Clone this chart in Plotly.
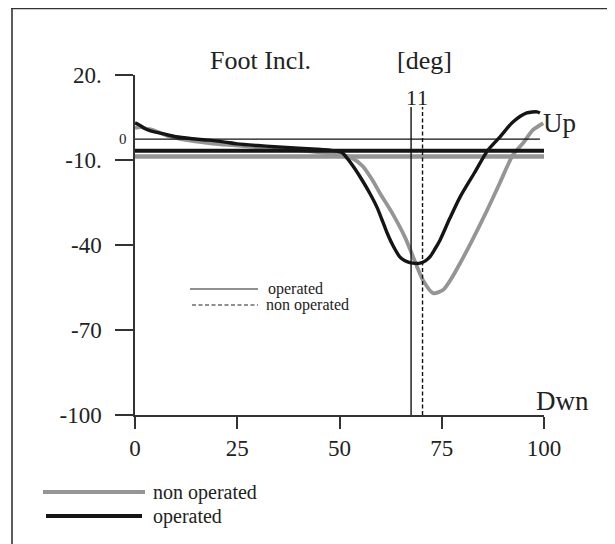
import plotly.graph_objects as go

# ---- data ----
gait_cycle_ticks = [0, 25, 50, 75, 100]
incl_tickvals = [20, -10, -40, -70, -100]
incl_ticktext = ["20.", "-10.", "-40", "-70", "-100"]

operated_x = [0, 1, 2.5, 4, 7, 10, 14, 18, 22, 25, 30, 34, 40, 44.5, 48.5, 50.5,
              52, 53.8, 55.7, 57.5, 59.2, 60.5, 61.6, 63, 64.8, 66, 67.2, 68.5,
              69.7, 71, 72.1, 73.3, 74.6, 77, 79.5, 83, 86.3, 89.2, 92.4, 95.8,
              98.3, 99]
operated_y = [3.1, 2.4, 1.0, 0.2, -0.8, -1.8, -2.5, -3.0, -3.7, -4.3, -4.9, -5.3,
              -5.8, -6.2, -6.7, -7.3, -9.6, -13.2, -17.5, -22.0, -26.8, -31.5,
              -35.6, -40.0, -44.3, -45.6, -46.2, -46.5, -46.4, -45.6, -44.2, -41.5,
              -38.2, -30.5, -23.0, -14.5, -6.5, -1.9, 3.4, 6.6, 7.0, 6.6]

non_operated_x = [0, 1.5, 3, 4.4, 8, 12.7, 18, 23, 30, 40, 48, 51, 53, 55.7, 58,
                  60, 63, 66, 68, 70.4, 72.9, 75.3, 77.5, 79.5, 82.5, 86, 89.2,
                  92.4, 94.9, 97.3, 99.8]
non_operated_y = [1.3, 1.6, 1.0, 0.6, -1.5, -3.0, -4.0, -4.7, -5.5, -6.5, -7.8,
                  -8.4, -9.3, -12.2, -17.0, -22.0, -29.0, -37.2, -44.2, -52.4,
                  -57.0, -55.9, -51.5, -46.4, -38.2, -28.0, -18.1, -8.2, -4.0, 0.6,
                  3.0]

operated_mean = -6.7
non_operated_mean = -8.8
zero_level = -2.6
toe_off_operated = 67.5
toe_off_non_operated = 70.3
toe_off_top = 8.7

FONT = "Liberation Serif"
BLACK = "#151515"
GRAY = "#959595"

fig = go.Figure()

fig.add_trace(go.Scatter(x=[0, 100], y=[non_operated_mean] * 2, mode="lines",
                         line=dict(color=GRAY, width=4.5), hoverinfo="skip"))
fig.add_trace(go.Scatter(x=non_operated_x, y=non_operated_y, mode="lines",
                         line=dict(color=GRAY, width=3.8, shape="spline", smoothing=0.7),
                         name="non operated"))
fig.add_trace(go.Scatter(x=[0, 100], y=[operated_mean] * 2, mode="lines",
                         line=dict(color=BLACK, width=4), hoverinfo="skip"))
fig.add_trace(go.Scatter(x=operated_x, y=operated_y, mode="lines",
                         line=dict(color=BLACK, width=3.4, shape="spline", smoothing=0.7),
                         name="operated"))
fig.add_trace(go.Scatter(x=[0, 99], y=[zero_level] * 2, mode="lines",
                         line=dict(color="#111", width=1.3), hoverinfo="skip"))
fig.add_trace(go.Scatter(x=[toe_off_operated] * 2, y=[-100, toe_off_top], mode="lines",
                         line=dict(color="#111", width=1.4), hoverinfo="skip"))
fig.add_trace(go.Scatter(x=[toe_off_non_operated] * 2, y=[-100, toe_off_top], mode="lines",
                         line=dict(color="#111", width=1.4, dash="4px,2.5px"), hoverinfo="skip"))

# page body has an 8px margin: figure is placed at (8, 8) on screen
OFF = 8
SL, ST, W, H = 135, 75, 409, 340   # plot area position on screen
L, T = SL - OFF, ST - OFF
FW, FH = 615 - OFF, 544 - OFF


def px(xp):
    return (xp - SL) / W


def py(yp):
    return (ST + H - yp) / H


shapes = [
    dict(type="line", xref="paper", yref="paper", x0=px(11), x1=px(640), y0=py(8.5), y1=py(8.5),
         line=dict(color="#333", width=1.6)),
    dict(type="line", xref="paper", yref="paper", x0=px(12), x1=px(12), y0=py(8.5), y1=py(560),
         line=dict(color="#333", width=1.6)),
    dict(type="line", xref="paper", yref="paper", x0=px(190), x1=px(258), y0=py(289), y1=py(289),
         line=dict(color="#222", width=1.2)),
    dict(type="line", xref="paper", yref="paper", x0=px(192), x1=px(258), y0=py(305), y1=py(305),
         line=dict(color="#222", width=1.2, dash="4px,2.5px")),
    dict(type="line", xref="paper", yref="paper", x0=px(43), x1=px(145), y0=py(492), y1=py(492),
         line=dict(color=GRAY, width=4)),
    dict(type="line", xref="paper", yref="paper", x0=px(46), x1=px(142), y0=py(516), y1=py(516),
         line=dict(color=BLACK, width=4)),
]


def ann(text, x, y, size, xanchor="center", yanchor="middle", xref="paper", yref="paper"):
    return dict(text=text, x=x, y=y, xref=xref, yref=yref, showarrow=False,
                xanchor=xanchor, yanchor=yanchor,
                font=dict(family=FONT, size=size, color="#222"))


annotations = [
    ann("Foot Incl.", px(260), py(61), 26),
    ann("[deg]", px(424), py(61), 26),
    ann("1", toe_off_operated, py(97), 22, xref="x"),
    ann("1", toe_off_non_operated, py(97), 22, xref="x"),
    ann("Up", px(541), py(123), 27, xanchor="left"),
    ann("Dwn", px(534), py(401), 27, xanchor="left"),
    ann("0", px(129), zero_level, 15, xanchor="right", yref="y"),
    ann("operated", px(266), py(289), 16, xanchor="left"),
    ann("non operated", px(264), py(305), 16, xanchor="left"),
    ann("non operated", px(151), py(492), 20, xanchor="left"),
    ann("operated", px(151), py(516), 20, xanchor="left"),
]

fig.update_layout(
    width=FW, height=FH,
    margin=dict(l=L, r=FW - L - W, t=T, b=FH - T - H),
    paper_bgcolor="white", plot_bgcolor="white",
    showlegend=False,
    font=dict(family=FONT, size=22, color="#222"),
    shapes=shapes, annotations=annotations,
    xaxis=dict(range=[0, 100], tickvals=gait_cycle_ticks, ticks="outside", ticklen=12,
               tickwidth=1.5, tickcolor="#333", showline=True, linecolor="#333", linewidth=1.5,
               showgrid=False, zeroline=False, automargin=False,
               tickfont=dict(family=FONT, size=23, color="#222")),
    yaxis=dict(range=[-100, 20], tickvals=incl_tickvals, ticktext=incl_ticktext,
               ticks="outside", ticklen=18, tickwidth=1.5, tickcolor="#333",
               showline=True, linecolor="#333", linewidth=1.5, showgrid=False,
               zeroline=False, ticklabelstandoff=9, automargin=False,
               tickfont=dict(family=FONT, size=23, color="#222")),
)

fig.write_html("out.html")
